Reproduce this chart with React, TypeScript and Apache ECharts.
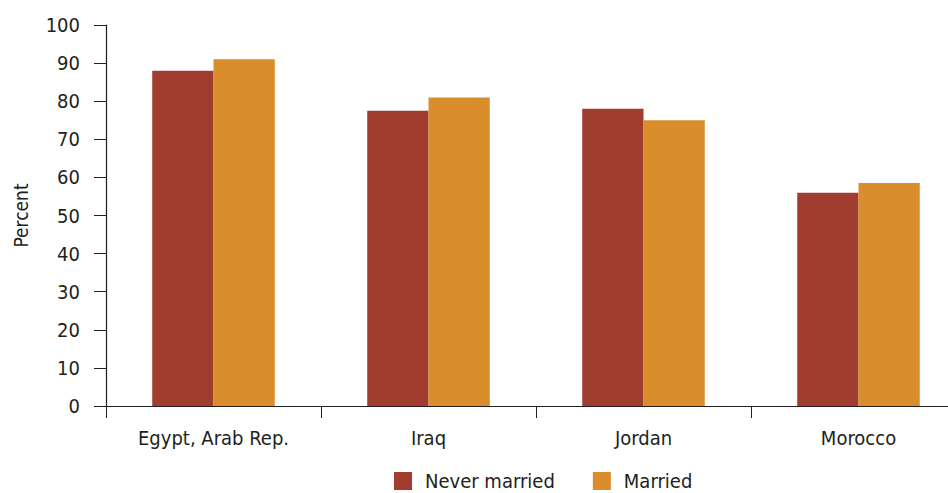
import React, { useEffect, useRef } from "react";
import * as echarts from "echarts";

const categories = ["Egypt, Arab Rep.", "Iraq", "Jordan", "Morocco"];
const neverMarried = [88, 77.5, 78, 56];
const married = [91, 81, 75, 58.5];
const seriesNames = ["Never married", "Married"];
const FONT = "'DejaVu Sans Condensed', 'Liberation Sans Narrow', sans-serif";
const TEXT = "#231f20";

export default function App() {
  const ref = useRef<HTMLDivElement>(null);
  useEffect(() => {
    if (!ref.current) return;
    const chart = echarts.init(ref.current, null, { renderer: "svg" });
    chart.setOption({
      animation: false,
      textStyle: { fontFamily: FONT, color: TEXT },
      grid: {
        left: 106,
        width: 860,
        top: 25,
        height: 381,
        containLabel: false,
        outerBoundsMode: "none",
      },
      legend: {
        data: seriesNames,
        left: 389,
        top: 466,
        itemWidth: 18,
        itemHeight: 18,
        itemGap: 38,
        icon: "rect",
        textStyle: { fontFamily: FONT, fontSize: 20, color: TEXT, padding: [0, 0, 0, 8] },
      },
      xAxis: {
        type: "category",
        data: categories,
        axisLine: { lineStyle: { color: "#231f20", width: 1.2 } },
        axisTick: { show: true, length: 12, interval: 0, lineStyle: { color: "#231f20" } },
        axisLabel: { fontFamily: FONT, fontSize: 20, color: TEXT, margin: 22, interval: 0 },
      },
      yAxis: {
        type: "value",
        min: 0,
        max: 100,
        interval: 10,
        name: "Percent",
        nameLocation: "middle",
        nameGap: 76,
        nameRotate: 90,
        nameTextStyle: { fontFamily: FONT, fontSize: 19, color: TEXT },
        axisLine: { show: true, lineStyle: { color: "#231f20", width: 1.2 } },
        axisTick: { show: true, length: 12, lineStyle: { color: "#231f20" } },
        splitLine: { show: false },
        axisLabel: { fontFamily: FONT, fontSize: 20, color: TEXT, margin: 26 },
      },
      series: [
        {
          name: seriesNames[0],
          type: "bar",
          data: neverMarried,
          itemStyle: { color: "#a13d2f" },
          barCategoryGap: "43%",
          barGap: "0%",
        },
        {
          name: seriesNames[1],
          type: "bar",
          data: married,
          itemStyle: { color: "#da8d2c" },
          barCategoryGap: "43%",
          barGap: "0%",
        },
      ],
    });
    return () => chart.dispose();
  }, []);
  return (
    <div
      ref={ref}
      style={{ position: "absolute", left: 0, top: 0, width: 948, height: 493 }}
    />
  );
}
